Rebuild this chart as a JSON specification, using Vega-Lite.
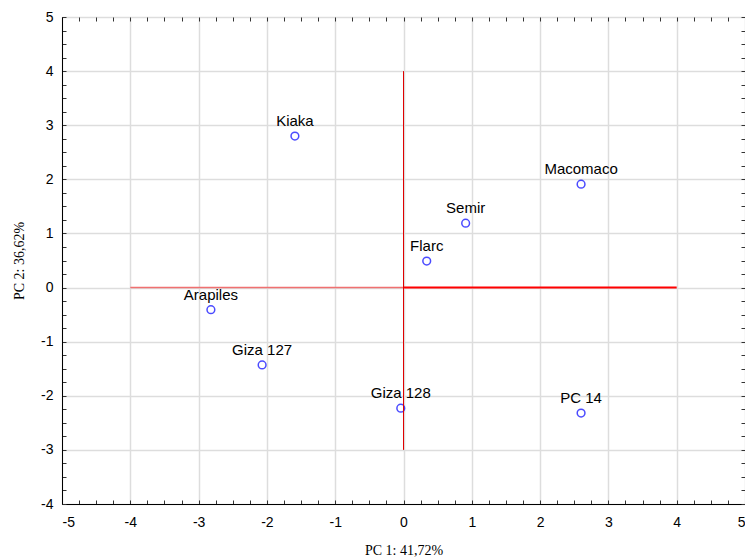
{
  "$schema": "https://vega.github.io/schema/vega-lite/v6.json",
  "width": 683,
  "height": 487,
  "autosize": {"type": "none"},
  "padding": {"left": 62, "top": 17, "right": 0, "bottom": 56},
  "background": "white",
  "config": {
    "view": {"stroke": "black", "strokeWidth": 1},
    "axis": {
      "domainColor": "black",
      "tickColor": "#333333",
      "labelFont": "Liberation Sans",
      "labelFontSize": 14,
      "labelColor": "black",
      "titleFont": "Liberation Serif",
      "titleFontSize": 14,
      "titleFontWeight": "normal",
      "titleColor": "black",
      "gridColor": "#dddddd",
      "gridWidth": 1.5
    }
  },
  "datasets": {
    "pts": [
      {"name": "Kiaka", "pc1": -1.59, "pc2": 2.80},
      {"name": "Macomaco", "pc1": 2.60, "pc2": 1.91},
      {"name": "Semir", "pc1": 0.91, "pc2": 1.19},
      {"name": "Flarc", "pc1": 0.34, "pc2": 0.49},
      {"name": "Arapiles", "pc1": -2.82, "pc2": -0.41},
      {"name": "Giza 127", "pc1": -2.07, "pc2": -1.43},
      {"name": "Giza 128", "pc1": -0.04, "pc2": -2.23},
      {"name": "PC 14", "pc1": 2.60, "pc2": -2.32}
    ],
    "hleft": [{"x": -4, "x2": 0, "y": 0}],
    "hright": [{"x": 0, "x2": 4, "y": 0}],
    "vert": [{"x": 0, "y": -3, "y2": 4}]
  },
  "resolve": {"axis": {"x": "independent", "y": "independent"}},
  "layer": [
    {
      "data": {"name": "pts"},
      "mark": {"type": "point", "shape": "circle", "filled": false, "color": "#0000ff", "strokeWidth": 1.5, "size": 60},
      "encoding": {
        "x": {"field": "pc1", "type": "quantitative",
          "scale": {"domain": [-5, 5], "nice": false, "zero": false},
          "axis": {"orient": "bottom", "title": "PC 1: 41,72%", "tickSize": -4, "labelPadding": 15, "titlePadding": 14,
            "labelExpr": "datum.value % 1 === 0 ? '' + datum.value : ''", "labelOverlap": false,
            "gridOpacity": {"condition": {"test": "datum.value % 1 !== 0", "value": 0}, "value": 1},
            "values": [-5,-4.75,-4.5,-4.25,-4,-3.75,-3.5,-3.25,-3,-2.75,-2.5,-2.25,-2,-1.75,-1.5,-1.25,-1,-0.75,-0.5,-0.25,0,0.25,0.5,0.75,1,1.25,1.5,1.75,2,2.25,2.5,2.75,3,3.25,3.5,3.75,4,4.25,4.5,4.75,5]}},
        "y": {"field": "pc2", "type": "quantitative",
          "scale": {"domain": [-4, 5], "nice": false, "zero": false},
          "axis": {"orient": "left", "title": "PC 2: 36,62%", "tickSize": -4, "labelPadding": 13, "titlePadding": 14,
            "labelExpr": "datum.value % 1 === 0 ? '' + datum.value : ''", "labelOverlap": false,
            "gridOpacity": {"condition": {"test": "datum.value % 1 !== 0", "value": 0}, "value": 1},
            "values": [-4,-3.75,-3.5,-3.25,-3,-2.75,-2.5,-2.25,-2,-1.75,-1.5,-1.25,-1,-0.75,-0.5,-0.25,0,0.25,0.5,0.75,1,1.25,1.5,1.75,2,2.25,2.5,2.75,3,3.25,3.5,3.75,4,4.25,4.5,4.75,5]}}
      }
    },
    {
      "data": {"name": "hleft"},
      "mark": {"type": "rule", "stroke": "#f07070", "color": "#f07070", "strokeWidth": 1.6},
      "encoding": {
        "x": {"field": "x", "type": "quantitative",
          "axis": {"orient": "top", "labels": false, "grid": false, "domain": false, "tickSize": -4, "title": null,
            "values": [-5,-4.75,-4.5,-4.25,-4,-3.75,-3.5,-3.25,-3,-2.75,-2.5,-2.25,-2,-1.75,-1.5,-1.25,-1,-0.75,-0.5,-0.25,0,0.25,0.5,0.75,1,1.25,1.5,1.75,2,2.25,2.5,2.75,3,3.25,3.5,3.75,4,4.25,4.5,4.75,5]}},
        "x2": {"field": "x2"},
        "y": {"field": "y", "type": "quantitative",
          "axis": {"orient": "right", "labels": false, "grid": false, "domain": false, "tickSize": -4, "title": null,
            "values": [-4,-3.75,-3.5,-3.25,-3,-2.75,-2.5,-2.25,-2,-1.75,-1.5,-1.25,-1,-0.75,-0.5,-0.25,0,0.25,0.5,0.75,1,1.25,1.5,1.75,2,2.25,2.5,2.75,3,3.25,3.5,3.75,4,4.25,4.5,4.75,5]}}
      }
    },
    {
      "data": {"name": "hright"},
      "mark": {"type": "rule", "stroke": "#ff0000", "color": "#ff0000", "strokeWidth": 2},
      "encoding": {
        "x": {"field": "x", "type": "quantitative", "axis": null},
        "x2": {"field": "x2"},
        "y": {"field": "y", "type": "quantitative", "axis": null}
      }
    },
    {
      "data": {"name": "vert"},
      "mark": {"type": "rule", "stroke": "#e00000", "color": "#e00000", "strokeWidth": 1},
      "encoding": {
        "x": {"field": "x", "type": "quantitative", "axis": null},
        "y": {"field": "y", "type": "quantitative", "axis": null},
        "y2": {"field": "y2"}
      }
    },
    {
      "data": {"name": "pts"},
      "mark": {"type": "text", "font": "Liberation Sans", "fontSize": 15, "color": "black", "align": "center", "baseline": "middle", "dy": -15},
      "encoding": {
        "x": {"field": "pc1", "type": "quantitative", "axis": null},
        "y": {"field": "pc2", "type": "quantitative", "axis": null},
        "text": {"field": "name"}
      }
    }
  ]
}
